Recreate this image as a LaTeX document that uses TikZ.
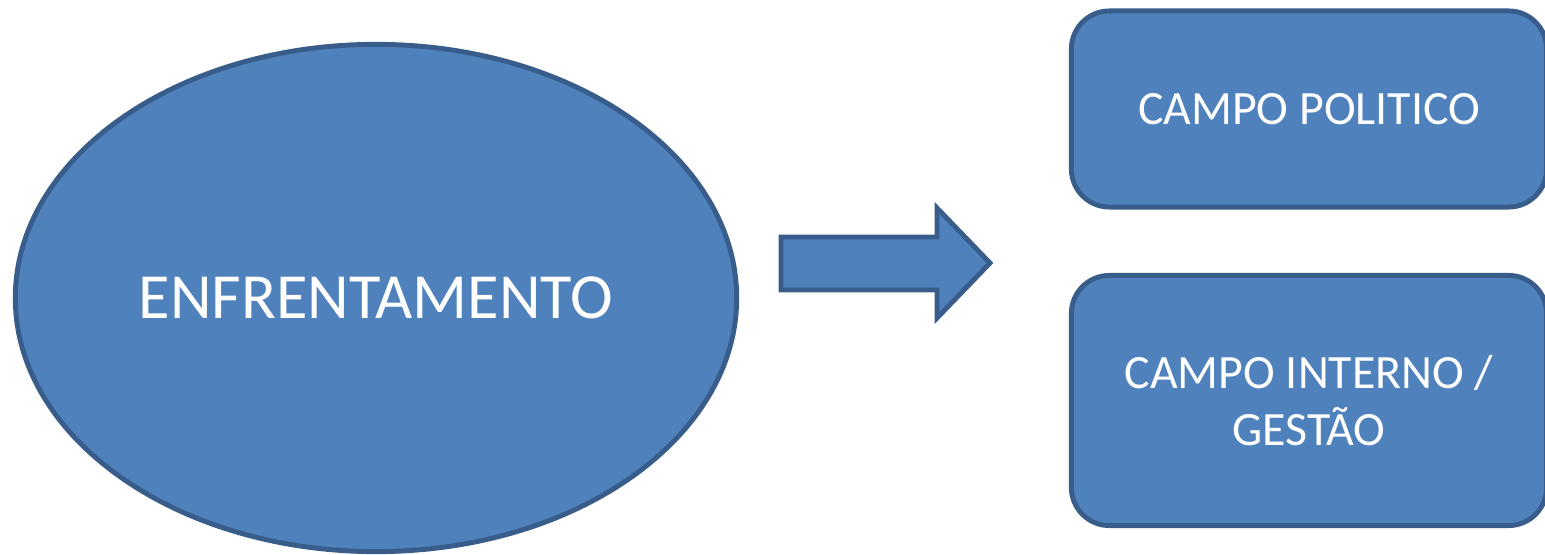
\documentclass[tikz,border=0pt]{standalone}
\usepackage{fontspec}
\setmainfont{Carlito}
\usepackage{tikz}
\usetikzlibrary{shapes.geometric}

\definecolor{azul}{HTML}{4F81BD}
\definecolor{borda}{HTML}{385D8A}

\tikzset{
  forma/.style={fill=azul, draw=borda, line width=1.4pt, text=white},
  campo/.style={forma, rectangle, rounded corners=0.38cm,
    minimum width=4.75cm, align=center, font=\fontsize{13.6}{16.3}\selectfont},
}

\begin{document}
\begin{tikzpicture}[x=0.01cm,y=-0.01cm]
  \useasboundingbox (0,0) rectangle (1545,555);
  \clip (0,0) rectangle (1545,555);
  \node[forma, ellipse, inner sep=0pt, minimum width=7.21cm, minimum height=5.07cm,
    font=\fontsize{18.3}{22}\selectfont] (enf) at (376,298) {ENFRENTAMENTO};
  \draw[forma, line join=miter] (781,237) -- (937,237) -- (937,208) -- (990,263)
    -- (937,318) -- (937,290) -- (781,290) -- cycle;
  \node[campo, minimum height=1.96cm] (pol) at (1309,109) {CAMPO POLITICO};
  \node[campo, minimum height=2.50cm] (int) at (1309,400.5) {CAMPO INTERNO /\\GESTÃO};
\end{tikzpicture}
\end{document}
